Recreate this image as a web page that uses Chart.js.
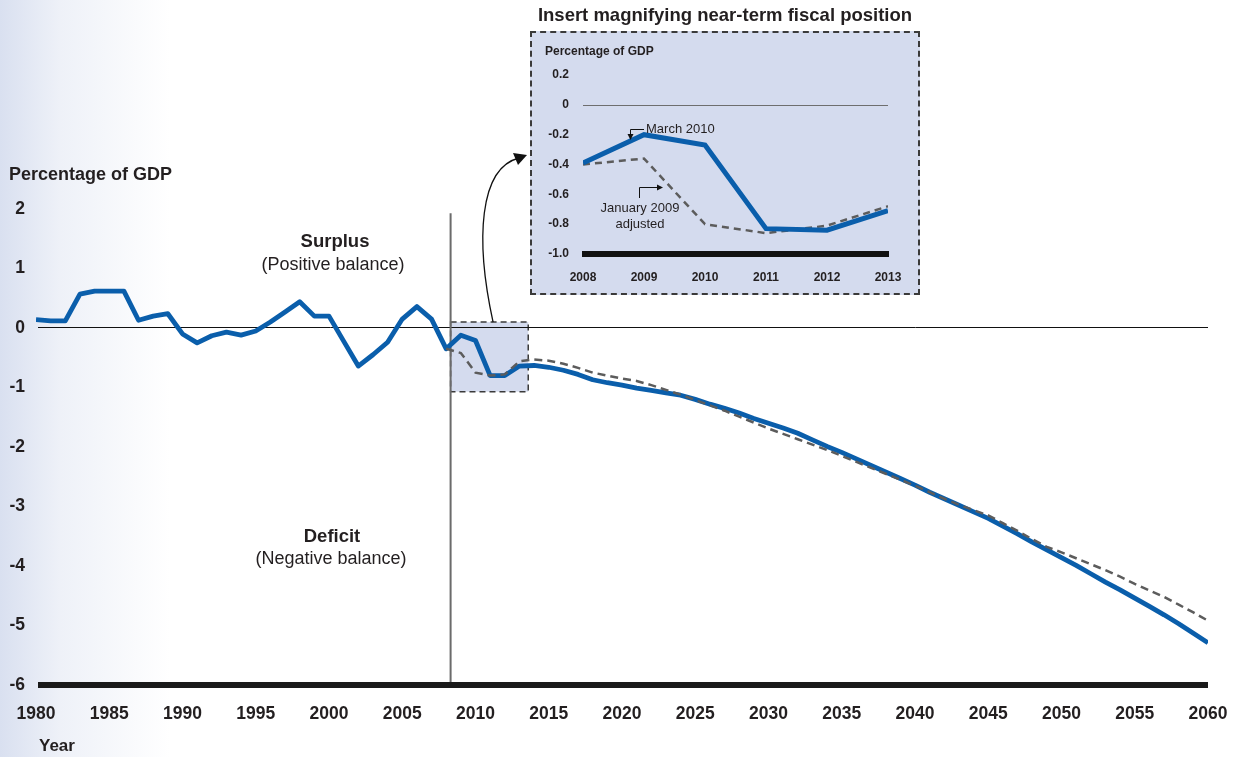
<!DOCTYPE html>
<html>
<head>
<meta charset="utf-8">
<script src="https://cdn.jsdelivr.net/npm/chart.js@4.4.0/dist/chart.umd.min.js"></script>
<style>
  html, body { margin: 0; padding: 0; }
  body {
    width: 1235px; height: 757px; overflow: hidden; position: relative;
    background: linear-gradient(to right, #d9e0f0 0px, #eef1f8 60px, #ffffff 170px);
    font-family: 'Liberation Sans', Arial, sans-serif;
  }
  #main { position: absolute; left: 0; top: 0; }
  #insetBox {
    position: absolute; left: 530px; top: 31px; width: 386px; height: 260px;
    border: 2px dashed #3a3a3a; background: #d4dbee;
  }
  #inset { position: absolute; left: 0; top: 0; }
  #insetTitle {
    position: absolute; left: 470px; width: 510px; top: 4px; text-align: center;
    font-weight: bold; font-size: 18.5px; color: #231f20;
  }
</style>
</head>
<body>
<canvas id="main" width="1235" height="757"></canvas>
<div id="insetTitle">Insert magnifying near-term fiscal position</div>
<div id="insetBox"><canvas id="inset" width="386" height="260"></canvas></div>
<script>
// ------------------------------------------------------------------
// Data
// ------------------------------------------------------------------

// Years on the main chart, 1980 .. 2060
const FIRST_YEAR = 1980;
const years = Array.from({ length: 81 }, (_, i) => FIRST_YEAR + i);

// March 2010 balance, percentage of GDP (history + projection)
const march2010 = [
   0.14,  0.12,  0.12,  0.57,  0.62,  0.62,  0.62,  0.13,  0.20,  0.24,   // 1980-1989
  -0.10, -0.25, -0.13, -0.07, -0.12, -0.05,  0.10,  0.27,  0.44,  0.20,   // 1990-1999
   0.20, -0.22, -0.64, -0.45, -0.24,  0.15,  0.36,  0.15, -0.35, -0.12,   // 2000-2009
  -0.21, -0.80, -0.80, -0.64, -0.63, -0.66, -0.71, -0.78, -0.87, -0.92,   // 2010-2019
  -0.96, -1.01, -1.05, -1.09, -1.13, -1.20, -1.28, -1.35, -1.43, -1.52,   // 2020-2029
  -1.60, -1.68, -1.77, -1.88, -1.99, -2.09, -2.20, -2.31, -2.42, -2.53,   // 2030-2039
  -2.64, -2.76, -2.87, -2.98, -3.09, -3.20, -3.33, -3.46, -3.60, -3.73,   // 2040-2049
  -3.86, -3.99, -4.13, -4.27, -4.40, -4.54, -4.68, -4.82, -4.97, -5.13,   // 2050-2059
  -5.29                                                                   // 2060
];

// January 2009 adjusted projection, starts in 2008
const jan2009 = [
  null, null, null, null, null, null, null, null, null, null,             // 1980-1989
  null, null, null, null, null, null, null, null, null, null,             // 1990-1999
  null, null, null, null, null, null, null, null, -0.35, -0.42,           // 2000-2009
  -0.75, -0.80, -0.78, -0.56, -0.53, -0.55, -0.60, -0.67, -0.75, -0.80,   // 2010-2019
  -0.85, -0.89, -0.96, -1.04, -1.12, -1.21, -1.30, -1.39, -1.49, -1.59,   // 2020-2029
  -1.69, -1.78, -1.87, -1.96, -2.05, -2.15, -2.25, -2.35, -2.45, -2.55,   // 2030-2039
  -2.65, -2.76, -2.87, -2.97, -3.06, -3.15, -3.28, -3.41, -3.55, -3.68,   // 2040-2049
  -3.77, -3.87, -3.97, -4.07, -4.18, -4.30, -4.41, -4.52, -4.65, -4.78,   // 2050-2059
  -4.92                                                                   // 2060
];

// Inset: near-term detail
const insetYears = [2008, 2009, 2010, 2011, 2012, 2013];
const insetMarch2010 = [-0.39, -0.20, -0.27, -0.83, -0.84, -0.71];
const insetJan2009   = [-0.40, -0.36, -0.80, -0.86, -0.81, -0.68];

// ------------------------------------------------------------------
// Styles
// ------------------------------------------------------------------

const FONT = "'Liberation Sans', Arial, sans-serif";
const TEXT = '#231f20';
const BLUE = '#0a5eab';
const GREY_DASH = '#5c5c5c';
const BOX_FILL = '#d4dbee';

const toPoints = (xs, ys) => xs.map((x, i) => ({ x, y: ys[i] }));

// Tick padding otherwise leaks into the layout and shrinks the plot area.
const noEdgePadding = (scale) => {
  scale.paddingLeft = 0;
  scale.paddingRight = 0;
};

// ------------------------------------------------------------------
// Main chart decorations
// ------------------------------------------------------------------

const mainDecor = {
  id: 'mainDecor',
  beforeDatasetsDraw(chart) {
    const { ctx, chartArea, scales: { x, y } } = chart;
    ctx.save();

    // highlighted near-term window
    const bx0 = x.getPixelForValue(2008.3), bx1 = x.getPixelForValue(2013.6);
    const by0 = y.getPixelForValue(0.1),   by1 = y.getPixelForValue(-1.07);
    ctx.fillStyle = BOX_FILL;
    ctx.fillRect(bx0, by0, bx1 - bx0, by1 - by0);
    ctx.setLineDash([6, 4]);
    ctx.strokeStyle = '#3a3a3a';
    ctx.lineWidth = 1.5;
    ctx.strokeRect(bx0, by0, bx1 - bx0, by1 - by0);
    ctx.setLineDash([]);

    // zero line
    ctx.strokeStyle = '#111';
    ctx.lineWidth = 1;
    const y0 = Math.round(y.getPixelForValue(0)) - 0.5;
    ctx.beginPath();
    ctx.moveTo(chartArea.left + 2, y0);
    ctx.lineTo(chartArea.right, y0);
    ctx.stroke();

    // vertical marker between history and projection
    ctx.strokeStyle = '#6b6b6b';
    ctx.lineWidth = 2;
    ctx.beginPath();
    ctx.moveTo(bx0, y.getPixelForValue(1.93));
    ctx.lineTo(bx0, chartArea.bottom);
    ctx.stroke();

    // thick base line
    ctx.strokeStyle = '#1a1a1a';
    ctx.lineWidth = 6;
    ctx.beginPath();
    ctx.moveTo(chartArea.left + 2, chartArea.bottom);
    ctx.lineTo(chartArea.right, chartArea.bottom);
    ctx.stroke();
    ctx.restore();
  },
  afterDraw(chart) {
    const { ctx, scales: { x, y } } = chart;
    ctx.save();
    ctx.fillStyle = TEXT;
    ctx.textBaseline = 'middle';

    ctx.font = `bold 18px ${FONT}`;
    ctx.textAlign = 'left';
    ctx.fillText('Percentage of GDP', 9, 175);
    ctx.font = `bold 17px ${FONT}`;
    ctx.fillText('Year', 39, 746);

    ctx.textAlign = 'center';
    ctx.font = `bold 18.5px ${FONT}`;
    ctx.fillText('Surplus', 335, 242);
    ctx.fillText('Deficit', 332, 537);
    ctx.font = `18px ${FONT}`;
    ctx.fillText('(Positive balance)', 333, 265);
    ctx.fillText('(Negative balance)', 331, 559);

    // curved arrow from the window up to the inset
    const sx = x.getPixelForValue(2011.2), sy = y.getPixelForValue(0.1);
    const ex = 527, ey = 155;
    ctx.strokeStyle = '#111';
    ctx.lineWidth = 1.3;
    ctx.beginPath();
    ctx.moveTo(sx, sy);
    ctx.bezierCurveTo(sx - 18, 240, sx - 14, 168, ex - 8, ey + 3);
    ctx.stroke();
    ctx.fillStyle = '#111';
    ctx.beginPath();
    ctx.moveTo(ex, ey);
    ctx.lineTo(ex - 14, ey - 2);
    ctx.lineTo(ex - 9, ey + 10);
    ctx.closePath();
    ctx.fill();
    ctx.restore();
  }
};

new Chart(document.getElementById('main'), {
  type: 'line',
  data: {
    datasets: [
      {
        label: 'January 2009 adjusted',
        data: toPoints(years, jan2009),
        borderColor: GREY_DASH,
        borderWidth: 2.5,
        borderDash: [8, 5],
        pointRadius: 0,
        fill: false,
      },
      {
        label: 'March 2010',
        data: toPoints(years, march2010),
        borderColor: BLUE,
        borderWidth: 4.8,
        pointRadius: 0,
        fill: false,
        borderJoinStyle: 'round',
      },
    ],
  },
  options: {
    responsive: false,
    animation: false,
    layout: { padding: { top: 209, right: 27, left: 0, bottom: 0 } },
    plugins: { legend: { display: false }, tooltip: { enabled: false } },
    scales: {
      x: {
        type: 'linear',
        min: 1980,
        max: 2060,
        grid: { display: false, drawTicks: false },
        border: { display: false },
        ticks: {
          stepSize: 5,
          padding: 19,
          color: TEXT,
          font: { family: FONT, size: 17.5, weight: 'bold' },
          callback: (v) => String(v),
          maxRotation: 0,
        },
        afterFit: (scale) => { scale.height = 72; noEdgePadding(scale); },
      },
      y: {
        min: -6,
        max: 2,
        grid: { display: false, drawTicks: false },
        border: { display: false },
        ticks: {
          stepSize: 1,
          padding: 11,
          color: TEXT,
          font: { family: FONT, size: 17.5, weight: 'bold' },
        },
        afterFit: (scale) => { scale.width = 36; },
      },
    },
  },
  plugins: [mainDecor],
});

// ------------------------------------------------------------------
// Inset chart
// ------------------------------------------------------------------

const insetDecor = {
  id: 'insetDecor',
  beforeDatasetsDraw(chart) {
    const { ctx, chartArea, scales: { y } } = chart;
    ctx.save();
    ctx.strokeStyle = '#6e6e6e';
    ctx.lineWidth = 1;
    const y0 = Math.round(y.getPixelForValue(0)) + 0.5;
    ctx.beginPath();
    ctx.moveTo(chartArea.left, y0);
    ctx.lineTo(chartArea.right, y0);
    ctx.stroke();

    ctx.strokeStyle = '#111';
    ctx.lineWidth = 6;
    ctx.beginPath();
    ctx.moveTo(chartArea.left - 1, chartArea.bottom);
    ctx.lineTo(chartArea.right + 1, chartArea.bottom);
    ctx.stroke();
    ctx.restore();
  },
  afterDraw(chart) {
    const { ctx } = chart;
    ctx.save();
    ctx.fillStyle = TEXT;
    ctx.textBaseline = 'middle';
    ctx.textAlign = 'left';
    ctx.font = `bold 12px ${FONT}`;
    ctx.fillText('Percentage of GDP', 13, 19);

    ctx.font = `13px ${FONT}`;
    ctx.fillText('March 2010', 114, 96);
    ctx.textAlign = 'center';
    ctx.fillText('January 2009', 108, 175);
    ctx.fillText('adjusted', 108, 191);

    // leader lines
    ctx.strokeStyle = '#111';
    ctx.fillStyle = '#111';
    ctx.lineWidth = 1;
    ctx.beginPath();
    ctx.moveTo(112, 96.5);
    ctx.lineTo(98.5, 96.5);
    ctx.lineTo(98.5, 102);
    ctx.stroke();
    ctx.beginPath();
    ctx.moveTo(95.5, 101); ctx.lineTo(101.5, 101); ctx.lineTo(98.5, 107);
    ctx.closePath(); ctx.fill();

    ctx.beginPath();
    ctx.moveTo(107.5, 165);
    ctx.lineTo(107.5, 154.5);
    ctx.lineTo(126, 154.5);
    ctx.stroke();
    ctx.beginPath();
    ctx.moveTo(125, 151.5); ctx.lineTo(131, 154.5); ctx.lineTo(125, 157.5);
    ctx.closePath(); ctx.fill();
    ctx.restore();
  }
};

new Chart(document.getElementById('inset'), {
  type: 'line',
  data: {
    datasets: [
      {
        label: 'March 2010',
        data: toPoints(insetYears, insetMarch2010),
        borderColor: BLUE,
        borderWidth: 5,
        pointRadius: 0,
        fill: false,
      },
      {
        label: 'January 2009 adjusted',
        data: toPoints(insetYears, insetJan2009),
        borderColor: GREY_DASH,
        borderWidth: 2.5,
        borderDash: [7, 5],
        pointRadius: 0,
        fill: false,
      },
    ],
  },
  options: {
    responsive: false,
    animation: false,
    layout: { padding: { top: 42, right: 30, left: 0, bottom: 0 } },
    plugins: { legend: { display: false }, tooltip: { enabled: false } },
    scales: {
      x: {
        type: 'linear',
        min: 2008,
        max: 2013,
        grid: { display: false, drawTicks: false },
        border: { display: false },
        ticks: {
          stepSize: 1,
          padding: 16,
          color: TEXT,
          font: { family: FONT, size: 12, weight: 'bold' },
          callback: (v) => String(v),
          maxRotation: 0,
        },
        afterFit: (scale) => { scale.height = 39; noEdgePadding(scale); },
      },
      y: {
        min: -1,
        max: 0.2,
        grid: { display: false, drawTicks: false },
        border: { display: false },
        ticks: {
          stepSize: 0.2,
          padding: 14,
          color: TEXT,
          font: { family: FONT, size: 12, weight: 'bold' },
          callback: (v) => {
            const r = Math.round(v * 10) / 10;
            if (r === 0) return '0';
            return r.toFixed(1);
          },
        },
        afterFit: (scale) => { scale.width = 51; },
      },
    },
  },
  plugins: [insetDecor],
});
</script>
</body>
</html>
